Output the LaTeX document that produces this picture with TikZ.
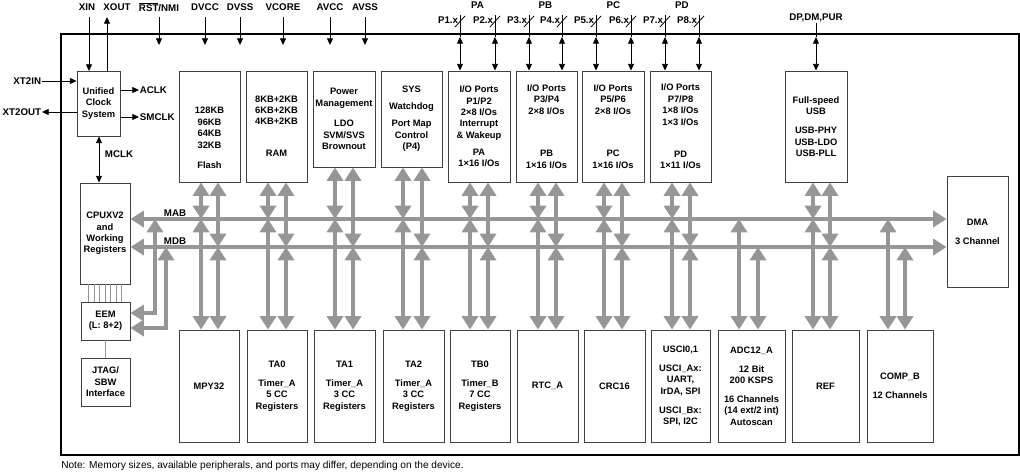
\documentclass[tikz,border=0pt]{standalone}
\usepackage{fontspec}
\setmainfont{Liberation Sans}
\usetikzlibrary{arrows.meta}
\definecolor{busg}{RGB}{150,150,150}
\tikzset{
  box/.style={draw=black!75,line width=0.7pt,inner sep=0pt,align=center,font=\fontsize{7}{8.6}\selectfont\bfseries},
  lbl/.style={inner sep=0.5pt,font=\fontsize{7.3}{8}\selectfont\bfseries},
  sig/.style={line width=0.6pt,black},
  sa/.style={sig,-{Triangle[width=4.5pt,length=5pt]}},
  sab/.style={sig,{Triangle[width=4.5pt,length=5pt]}-{Triangle[width=4.5pt,length=5pt]}},
  bus/.style={line width=3pt,draw=busg,{Triangle[width=12pt,length=10pt,fill=busg]}-{Triangle[width=12pt,length=10pt,fill=busg]}},
  thin/.style={line width=0.5pt,draw=busg}
}
\newcommand\bx[6]{\node[box,minimum width={(#4-#2)*0.75pt},minimum height={(#5-#3)*0.75pt}] (#1) at ({(#2+#4)/2},{(#3+#5)/2}) {#6};}
\begin{document}
\begin{tikzpicture}[x=0.75pt,y=-0.75pt]
\useasboundingbox (0,0) rectangle (1020,475);
\draw[line width=1.5pt] (61,34) rectangle (1019,455);
% blocks
\bx{clk}{77}{71}{120}{136}{Unified\\Clock\\System}
\bx{cpu}{80}{183}{130}{284}{CPUXV2\\and\\Working\\Registers}
\bx{eem}{81}{302}{130}{340}{EEM\\(L: 8+2)}
\bx{jtag}{81}{358}{130}{406}{JTAG/\\SBW\\Interface}
\bx{flash}{179}{71}{240}{182}{}
\node[box,draw=none] (flasht) at (209.5,138) {128KB\\96KB\\64KB\\32KB\\[1em]Flash};
\bx{ram}{246}{71}{307}{182}{}
\node[box,draw=none] (ramt) at (276.5,126) {8KB+2KB\\6KB+2KB\\4KB+2KB\\[2.15em]RAM};
\bx{pmm}{313}{71}{375}{167}{Power\\Management\\[1em]LDO\\SVM/SVS\\Brownout}
\bx{sys}{381}{71}{442}{167}{SYS\\[0.6em]Watchdog\\[0.6em]Port Map\\Control\\(P4)}
\bx{pa}{448}{71}{510}{182}{I/O Ports\\P1/P2\\2×8 I/Os\\Interrupt\\\& Wakeup\\[0.6em]PA\\1×16 I/Os}
\bx{pb}{516}{71}{577}{182}{I/O Ports\\P3/P4\\2×8 I/Os\\[3.3em]PB\\1×16 I/Os}
\bx{pc}{582}{71}{644}{182}{I/O Ports\\P5/P6\\2×8 I/Os\\[3.3em]PC\\1×16 I/Os}
\bx{pd}{650}{71}{711}{182}{I/O Ports\\P7/P8\\1×8 I/Os\\1×3 I/Os\\[2.2em]PD\\1×11 I/Os}
\bx{usb}{785}{71}{847}{182}{Full-speed\\USB\\[0.8em]USB-PHY\\USB-LDO\\USB-PLL}
\bx{dma}{947}{176}{1008}{287}{DMA\\[0.8em]3 Channel}
\bx{mpy}{179}{330}{239}{442}{MPY32}
\bx{ta0}{247}{330}{307}{442}{TA0\\[0.8em]Timer\_A\\5 CC\\Registers}
\bx{ta1}{314}{330}{375}{442}{TA1\\[0.8em]Timer\_A\\3 CC\\Registers}
\bx{ta2}{383}{330}{444}{442}{TA2\\[0.8em]Timer\_A\\3 CC\\Registers}
\bx{tb0}{450}{330}{510}{442}{TB0\\[0.8em]Timer\_B\\7 CC\\Registers}
\bx{rtc}{517}{330}{578}{442}{RTC\_A}
\bx{crc}{584}{330}{645}{442}{CRC16}
\bx{usci}{651}{330}{710}{442}{USCI0,1\\[0.8em]USCI\_Ax:\\UART,\\IrDA, SPI\\[0.8em]USCI\_Bx:\\SPI, I2C}
\bx{adc}{718}{330}{785}{442}{ADC12\_A\\[0.8em]12 Bit\\200 KSPS\\[0.8em]16 Channels\\(14 ext/2 int)\\Autoscan}
\bx{ref}{792}{330}{859}{442}{REF}
\bx{comp}{867}{330}{933}{442}{COMP\_B\\[0.8em]12 Channels}
% top pins
\node[lbl] (xin) at (87,7) {XIN};
\node[lbl] (xout) at (117,7) {XOUT};
\node[lbl] (rst) at (159,7) {$\overline{\mbox{RST}}$/NMI};
\node[lbl] (dvcc) at (205,7) {DVCC};
\node[lbl] (dvss) at (240,7) {DVSS};
\node[lbl] (vcore) at (283,7) {VCORE};
\node[lbl] (avcc) at (330,7) {AVCC};
\node[lbl] (avss) at (365,7) {AVSS};
\draw[sa] (89,17) -- (89,71);
\draw[sa] (107,71) -- (107,17);
\foreach \n/\x in {rst/159,dvcc/205,dvss/240,vcore/283,avcc/330,avss/365}{
  \coordinate (\n E) at (\x,45);
  \draw[sa] (\x,17) -- (\n E);}
\node[lbl,anchor=east] (xt2in) at (42,81) {XT2IN};
\draw[sa] (xt2in.east) -- (clk.west |- xt2in);
\node[lbl,anchor=east] (xt2out) at (42,112) {XT2OUT};
\draw[sa] (clk.west |- xt2out) -- (xt2out.east);
\node[lbl,anchor=west] (aclk) at (139,90) {ACLK};
\draw[sa] (clk.east |- aclk) -- (aclk.west);
\node[lbl,anchor=west] (smclk) at (139,117) {SMCLK};
\draw[sa] (clk.east |- smclk) -- (smclk.west);
\draw[sab] (clk.south -| 99,0) -- (cpu.north -| 99,0);
\node[lbl,anchor=west] (mclk) at (104,154) {MCLK};
% ports
\foreach \g/\lab/\a/\b/\la/\lb in {pa/PA/460/495/P1.x/P2.x,pb/PB/529/562/P3.x/P4.x,pc/PC/596/631/P5.x/P6.x,pd/PD/665/699/P7.x/P8.x}{
  \node[lbl] (\g L) at ({(\a+\b)/2},5) {\lab};
  \foreach \xx/\pl [count=\i] in {\a/\la,\b/\lb}{
    \node[lbl,anchor=east] (\g P\i) at (\xx-1,20) {\pl};
    \coordinate (\g T\i) at (\xx,37);
    \draw[sig] (\xx,15) -- (\g T\i);
    \draw[sig] (\xx-5,27) -- (\xx+5,16);
    \draw[sab] (\g T\i) -- (\g.north -| \xx,0);
  }
}
\node[lbl] (usbp) at (816,18) {DP,DM,PUR};
\coordinate (usbT) at (816,37);
\draw[sig] (usbp.south) -- (usbT);
\draw[sab] (usbT) -- (usb.north);
% buses
\coordinate (mabL) at (130,219); \coordinate (mdbL) at (130,247);
\draw[bus] (cpu.east |- mabL) -- (dma.west |- mabL);
\draw[bus] (cpu.east |- mdbL) -- (dma.west |- mdbL);
\node[lbl,anchor=south] (mab) at (175,217) {MAB};
\node[lbl,anchor=south] (mdb) at (175,245) {MDB};
% upper columns
\foreach \n/\a/\b in {flash/201/218,ram/268/286,pmm/335/353,sys/403/422,pa/470/488,pb/538/556,pc/604/622,pd/672/690,usb/813/830}{
  \draw[bus] (\n.south -| \a,0) -- (\a,219);
  \draw[bus] (\n.south -| \b,0) -- (\b,247);
}
% lower columns
\foreach \n/\a/\b in {mpy/201/218,ta0/268/286,ta1/335/353,ta2/403/422,tb0/470/488,rtc/538/556,crc/604/622,usci/672/690,adc/739/758,ref/813/830,comp/888/905}{
  \draw[bus] (\n.north -| \a,0) -- (\a,219);
  \draw[bus] (\n.north -| \b,0) -- (\b,247);
}
% EEM
\draw[bus] (155,219) -- (155,313) -- (eem.east |- 0,313);
\draw[bus] (166,247) -- (166,328) -- (eem.east |- 0,328);
\foreach \xx in {88,94,99,105,110,116,121}{\draw[thin] (cpu.south -| \xx,0) -- (eem.north -| \xx,0);}
\draw[thin] (eem.south) -- (jtag.north);
\node[anchor=west,inner sep=0,font=\fontsize{7.6}{8}\selectfont] (note) at (61,466) {Note: Memory sizes, available peripherals, and ports may differ, depending on the device.};
\end{tikzpicture}
\end{document}
